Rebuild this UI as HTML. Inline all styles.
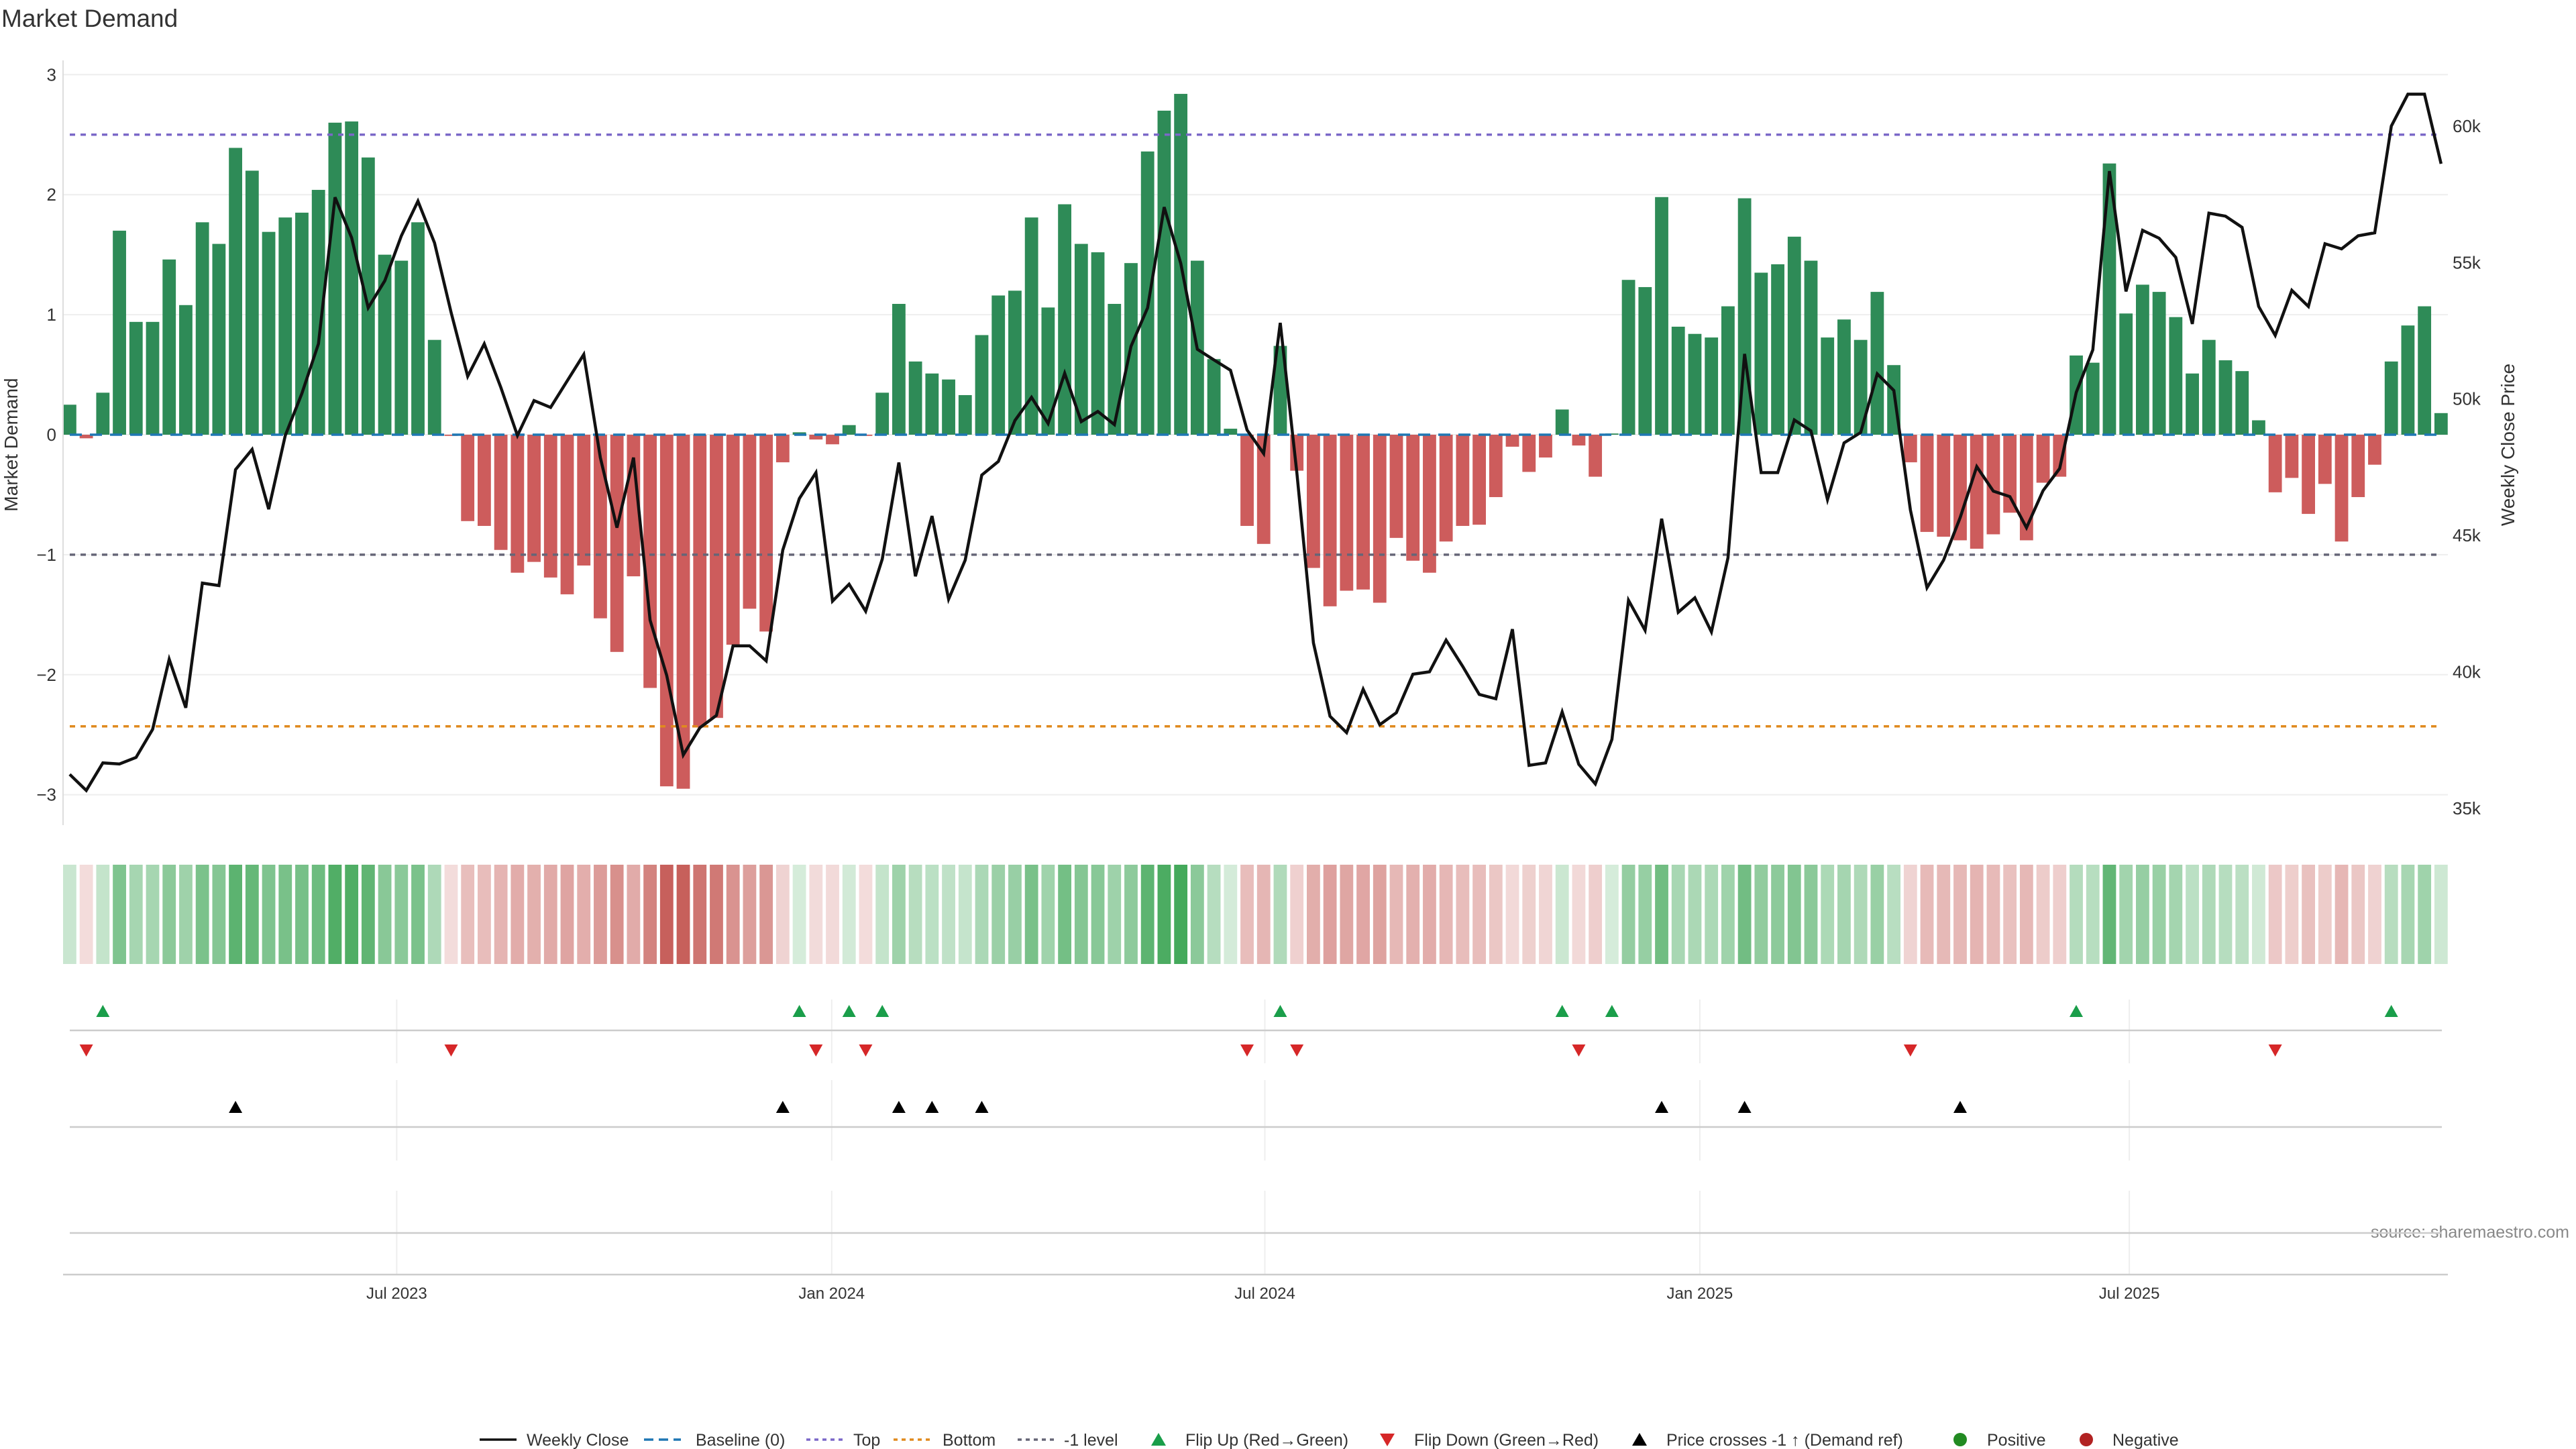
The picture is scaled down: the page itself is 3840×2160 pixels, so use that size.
<!DOCTYPE html>
<html><head><meta charset="utf-8"><style>
html,body{margin:0;padding:0;background:#fff;}
svg{display:block;font-family:"Liberation Sans","DejaVu Sans",sans-serif;}
</style></head><body>
<svg id="chart" width="3840" height="2160" viewBox="0 0 3840 2160">
<text x="2" y="40" font-size="37" fill="#333">Market Demand</text>
<text transform="translate(26,663) rotate(-90)" text-anchor="middle" font-size="28" fill="#333">Market Demand</text>
<text transform="translate(3748,663) rotate(-90)" text-anchor="middle" font-size="28" fill="#333">Weekly Close Price</text>
<text x="3830" y="1845" text-anchor="end" font-size="25" fill="#888">source: sharemaestro.com</text>
<g id="grid"></g><g id="bars"></g><g id="refs"></g><g id="line"></g><g id="heat"></g><g id="panels"></g><g id="axes"></g><g id="legend"></g>
</svg>
<script>
const demand=[0.25,-0.03,0.35,1.70,0.94,0.94,1.46,1.08,1.77,1.59,2.39,2.20,1.69,1.81,1.85,2.04,2.60,2.61,2.31,1.50,1.45,1.77,0.79,-0.01,
-0.72,-0.76,-0.96,-1.15,-1.06,-1.19,-1.33,-1.09,-1.53,-1.81,-1.18,-2.11,-2.93,-2.95,
-2.44,-2.36,-1.75,-1.45,-1.64,-0.23,0.02,-0.04,-0.08,0.08,-0.01,0.35,1.09,0.61,0.51,0.46,0.33,0.83,1.16,1.20,1.81,1.06,1.92,1.59,1.52,1.09,1.43,2.36,2.70,2.84,1.45,0.63,0.05,-0.76,-0.91,0.74,
-0.30,-1.11,-1.43,-1.30,-1.29,-1.40,-0.86,-1.05,-1.15,-0.89,-0.76,-0.75,-0.52,-0.10,-0.31,-0.19,0.21,-0.09,-0.35,0.01,1.29,1.23,1.98,0.90,0.84,0.81,1.07,1.97,1.35,1.42,1.65,1.45,0.81,0.96,0.79,1.19,0.58,
-0.23,-0.81,-0.85,-0.88,-0.95,-0.83,-0.65,-0.88,-0.40,-0.35,0.66,0.60,2.26,1.01,1.25,1.19,0.98,0.51,0.79,0.62,0.53,0.12,-0.48,-0.36,-0.66,-0.41,-0.89,-0.52,-0.25,0.61,0.91,1.07,0.18];
const price=[36.24,35.65,36.66,36.62,36.86,37.89,40.46,38.68,43.25,43.16,47.41,48.15,45.96,48.66,50.20,52.02,57.39,55.91,53.34,54.33,55.98,57.25,55.72,53.17,50.83,52.02,50.42,48.66,49.94,49.69,50.66,51.63,47.85,45.28,47.85,41.89,39.87,36.95,
37.95,38.40,40.95,40.95,40.40,44.46,46.35,47.30,42.59,43.21,42.22,44.13,47.67,43.50,45.71,42.66,44.09,47.21,47.71,49.21,50.06,49.10,50.94,49.17,49.54,49.06,51.93,53.34,57.03,54.97,51.82,51.43,51.05,48.86,48.00,52.79,47.30,41.06,
38.37,37.77,39.36,38.06,38.50,39.91,40.00,41.16,40.20,39.17,39.01,41.56,36.57,36.66,38.53,36.61,35.89,37.52,42.62,41.52,45.61,42.18,42.71,41.46,44.18,51.65,47.30,47.30,49.23,48.83,46.31,48.39,48.77,50.92,50.31,
45.93,43.08,44.09,45.65,47.52,46.62,46.42,45.28,46.64,47.45,50.24,51.80,58.35,53.94,56.18,55.89,55.19,52.75,56.81,56.70,56.29,53.39,52.33,53.98,53.39,55.69,55.50,55.98,56.09,60.0,61.17,61.17,58.62];
const crossIdx=[10,43,50,52,55,96,101,114];
const leftTicks=[3,2,1,0,-1,-2,-3];
const leftTickLabels=["3","2","1","0","\u22121","\u22122","\u22123"];
const rightTicks=[35,40,45,50,55,60];
const rightTickLabels=["35k","40k","45k","50k","55k","60k"];
const dateTickPos=[19.72,45.95,72.07,98.3,124.2];
const dateTickLabels=["Jul 2023","Jan 2024","Jul 2024","Jan 2025","Jul 2025"];
const topLevel=2.5, bottomLevel=-2.43, minusLevel=-1;

const NS="http://www.w3.org/2000/svg";
const xb=i=>103.9+i*24.72;
const yD=v=>648-v*178.9;
const yP=p=>188+(60-p)*40.67;
function mk(tag,attrs,parent){const e=document.createElementNS(NS,tag);for(const k in attrs)e.setAttribute(k,attrs[k]);document.getElementById(parent).appendChild(e);return e;}

leftTicks.forEach((t,k)=>{
  const g=mk('line',{x1:94,x2:3649,y1:yD(t),y2:yD(t),stroke:'#eeeeee','stroke-width':2},'grid');
  
  
  const tx=mk('text',{x:84,y:yD(t)+9,'text-anchor':'end','font-size':26,fill:'#333'},'axes');
  tx.textContent=leftTickLabels[k];
  
  
});
rightTicks.forEach((t,k)=>{
  const tx=mk('text',{x:3656,y:yP(t)+9,'font-size':26,fill:'#333'},'axes');
  tx.textContent=rightTickLabels[k];
  
  
});
const sp=mk('line',{x1:94,x2:94,y1:90,y2:1230,stroke:'#dddddd','stroke-width':2},'axes');



demand.forEach((v,i)=>{
  const y0=yD(0),y1=yD(v);
  const r=mk('rect',{x:xb(i)-9.9,y:Math.min(y0,y1),width:19.8,height:Math.max(Math.abs(y1-y0),1.5),fill:v>=0?'#2e8b57':'#cd5c5c'},'bars');
  
  
});

function ref(v,color,dash,name){
  const l=mk('line',{x1:104,x2:3640,y1:yD(v),y2:yD(v),stroke:color,'stroke-width':3.5,'stroke-dasharray':dash},'refs');
  
  
}
ref(0,'#1f77b4','18 12','baseline-line');
ref(topLevel,'#7b68c8','8 8','top-line');
ref(bottomLevel,'#e08a1e','8 8','bottom-line');
ref(minusLevel,'#666677','8 8','minus-one-line');

const pl=mk('polyline',{points:price.map((p,i)=>xb(i)+','+yP(p)).join(' '),fill:'none',stroke:'#111','stroke-width':4.5,'stroke-linejoin':'miter'},'line');



demand.forEach((v,i)=>{
  const t=Math.min(Math.abs(v)/3,1);
  const c=mk('rect',{x:xb(i)-9.9,y:1289,width:19.8,height:148,fill:v>=0?'rgb(50,160,75)':'rgb(195,85,80)','fill-opacity':(0.2+0.75*t).toFixed(3)},'heat');
  
  
});

dateTickPos.forEach((p,k)=>{
  const x=xb(p);
  [[1490,1585],[1610,1730],[1775,1900]].forEach(s=>{
    const l=mk('line',{x1:x,x2:x,y1:s[0],y2:s[1],stroke:'#eeeeee','stroke-width':2},'panels');
    
    
  });
  const tx=mk('text',{x:x,y:1936,'text-anchor':'middle','font-size':24,fill:'#333'},'axes');
  tx.textContent=dateTickLabels[k];
  
  
});
[[1536,'flip-panel-line'],[1680,'cross-panel-line'],[1838,'empty-panel-line']].forEach(a=>{
  const l=mk('line',{x1:104,x2:3640,y1:a[0],y2:a[0],stroke:'#cccccc','stroke-width':2.5},'panels');
  
  
});
const ax=mk('line',{x1:94,x2:3649,y1:1900,y2:1900,stroke:'#cccccc','stroke-width':2.5},'panels');


function tri(x,y,up,color,name){
  const pts=up?`${x-10},${y+9} ${x+10},${y+9} ${x},${y-9}`:`${x-10},${y-9} ${x+10},${y-9} ${x},${y+9}`;
  const t=mk('polygon',{points:pts,fill:color},'panels');
  
  
}
for(let i=1;i<demand.length;i++){
  if(demand[i-1]<0&&demand[i]>=0)tri(xb(i),1507,true,'#1a9e4a','flip-up-marker');
  if(demand[i-1]>=0&&demand[i]<0)tri(xb(i),1566,false,'#d62728','flip-down-marker');
}
crossIdx.forEach(i=>tri(xb(i),1650,true,'#000','price-cross-marker'));

const leg=[
 ['line','#111','', 'Weekly Close',715,785],
 ['line','#1f77b4','14 8','Baseline (0)',960,1037],
 ['line','#7b68c8','6 6','Top',1202,1272],
 ['line','#e08a1e','6 6','Bottom',1332,1405],
 ['line','#666677','6 6','-1 level',1517,1586],
 ['tu','#1a9e4a','','Flip Up (Red\u2192Green)',1727,1767],
 ['td','#d62728','','Flip Down (Green\u2192Red)',2068,2108],
 ['tu','#000','','Price crosses -1 \u2191 (Demand ref)',2444,2484],
 ['c','#228b22','','Positive',2922,2962],
 ['c','#b22222','','Negative',3110,3149]];
leg.forEach(a=>{
  const y=2146;
  let m;
  if(a[0]==='line'){m=mk('line',{x1:a[4],x2:a[4]+55,y1:y,y2:y,stroke:a[1],'stroke-width':3.5,'stroke-dasharray':a[2]},'legend');}
  else if(a[0]==='tu'){m=mk('polygon',{points:`${a[4]-11},${y+9} ${a[4]+11},${y+9} ${a[4]},${y-10}`,fill:a[1]},'legend');}
  else if(a[0]==='td'){m=mk('polygon',{points:`${a[4]-11},${y-9} ${a[4]+11},${y-9} ${a[4]},${y+10}`,fill:a[1]},'legend');}
  else {m=mk('circle',{cx:a[4],cy:y,r:10,fill:a[1]},'legend');}
  
  
  const t=mk('text',{x:a[5],y:y+9,'font-size':25,fill:'#333'},'legend');
  t.textContent=a[3];
  
  
});
</script>
</body></html>
